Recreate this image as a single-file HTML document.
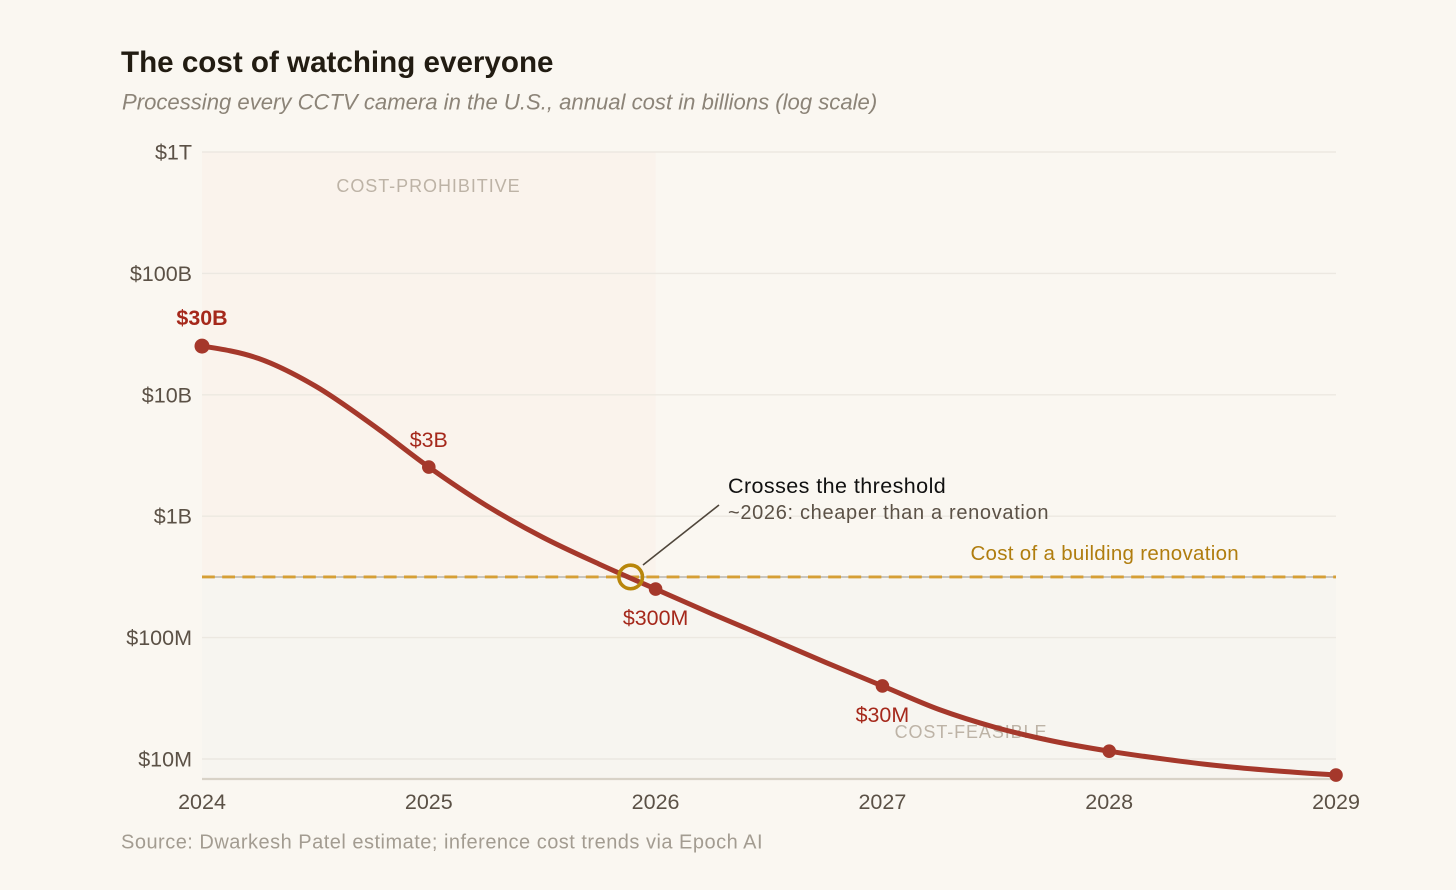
<!DOCTYPE html>
<html lang="en">
<head>
<meta charset="utf-8">
<title>The cost of watching everyone</title>
<style>
html,body{margin:0;padding:0;background:#faf7f1;}
svg{display:block;font-family:"Liberation Sans",Arial,sans-serif;}
</style>
</head>
<body>
<svg id="chart" width="1456" height="890" viewBox="0 0 1456 890" xmlns="http://www.w3.org/2000/svg">
  <rect x="0" y="0" width="1456" height="890" fill="#faf7f1"/>
  <text x="121" y="72" font-size="29.6" font-weight="700" fill="#221c12">The cost of watching everyone</text>
  <text x="122" y="109.5" font-size="22.1" font-style="italic" fill="#8c8478">Processing every CCTV camera in the U.S., annual cost in billions (log scale)</text>
  <rect id="zoneHigh" fill="#faf3ec"/>
  <rect id="zoneLow" fill="#f7f5f0"/>
  <g id="grid"></g>
  <g id="yLabels"></g>
  <line id="baseline" stroke="#d8d2c7" stroke-width="2.2"/>
  <g id="xLabels"></g>
  <text x="428.5" y="192" text-anchor="middle" font-size="18" letter-spacing="0.95" fill="#bdb3a6">COST-PROHIBITIVE</text>
  <text x="971" y="738" text-anchor="middle" font-size="18" letter-spacing="0.9" fill="#bdb3a6">COST-FEASIBLE</text>
  <line id="thresholdBase" stroke="#c9c6c0" stroke-width="2"/>
  <line id="thresholdDash" stroke="#d69f35" stroke-width="2.8" stroke-dasharray="12.8 7.4"/>
  <text x="1239" y="560" text-anchor="end" font-size="20.5" letter-spacing="0.3" fill="#b07d0e">Cost of a building renovation</text>
  <path id="costLine" fill="none" stroke="#a5382b" stroke-width="5" stroke-linejoin="round"/>
  <g id="points"></g>
  <g id="valueLabels"></g>
  <circle id="crossMarker" r="11.8" fill="none" stroke="#b8860b" stroke-width="3.6"/>
  <line x1="643" y1="565" x2="719" y2="505" stroke="#4f463b" stroke-width="1.6"/>
  <text x="728" y="493" font-size="21.5" letter-spacing="0.43" fill="#111111">Crosses the threshold</text>
  <text x="728" y="519" font-size="20" letter-spacing="0.67" fill="#5b5146">~2026: cheaper than a renovation</text>
  <text x="121" y="848.5" font-size="20" letter-spacing="0.49" fill="#a39c91">Source: Dwarkesh Patel estimate; inference cost trends via Epoch AI</text>
</svg>
<script>
// Chart data: annual cost in billions of dollars
var years = [2024, 2024.25, 2024.5, 2024.75, 2025, 2025.25, 2025.5, 2025.75, 2026, 2026.25, 2026.5, 2026.75, 2027, 2027.25, 2027.5, 2027.75, 2028, 2028.25, 2028.5, 2028.75, 2029];
var costs = [25.2, 19.9, 11.8, 5.69, 2.54, 1.237, 0.674, 0.404, 0.251, 0.1565, 0.0992, 0.0624, 0.04, 0.02557, 0.01818, 0.01407, 0.0116, 0.00994, 0.00873, 0.00794, 0.00738];
var xTickYears = [2024, 2025, 2026, 2027, 2028, 2029];
var labelYears = [2024, 2025, 2026, 2027];
var labelText = ["$30B", "$3B", "$300M", "$30M"];
var tickValues = [1000, 100, 10, 1, 0.1, 0.01];
var tickText = ["$1T", "$100B", "$10B", "$1B", "$100M", "$10M"];
var thresholdCost = 0.316;
var crossingYear = 2025.89;

var NS = "http://www.w3.org/2000/svg";
var plotLeft = 202, plotRight = 1336, plotTop = 152, plotBottom = 779, tickBottomY = 759;
function xScale(year) {
  return plotLeft + (year - xTickYears[0]) / (xTickYears[xTickYears.length - 1] - xTickYears[0]) * (plotRight - plotLeft);
}
function yScale(v) {
  var top = Math.log10(tickValues[0]), bot = Math.log10(tickValues[tickValues.length - 1]);
  return plotTop + (top - Math.log10(v)) / (top - bot) * (tickBottomY - plotTop);
}
function make(tag, attrs, parent, text) {
  var el = document.createElementNS(NS, tag);
  for (var k in attrs) el.setAttribute(k, attrs[k]);
  if (text !== undefined) el.textContent = text;
  parent.appendChild(el);
  return el;
}
function byId(id) { return document.getElementById(id); }
function setAttrs(el, attrs) { for (var k in attrs) el.setAttribute(k, attrs[k]); }

var thY = yScale(thresholdCost);
setAttrs(byId("zoneHigh"), {x: plotLeft, y: plotTop, width: xScale(2026) - plotLeft, height: thY - plotTop});
setAttrs(byId("zoneLow"), {x: plotLeft, y: thY, width: plotRight - plotLeft, height: plotBottom - thY});
setAttrs(byId("baseline"), {x1: plotLeft, x2: plotRight, y1: plotBottom, y2: plotBottom});
setAttrs(byId("thresholdBase"), {x1: plotLeft, x2: plotRight, y1: thY, y2: thY});
setAttrs(byId("thresholdDash"), {x1: plotLeft, x2: plotRight, y1: thY, y2: thY});
setAttrs(byId("crossMarker"), {cx: xScale(crossingYear), cy: thY});

tickValues.forEach(function (v, i) {
  var y = yScale(v);
  var line = make("line", {x1: plotLeft, x2: plotRight, y1: y, y2: y, stroke: "#ece8e1", "stroke-width": 1.4}, byId("grid"));
  
  
  var label = make("text", {x: 192, y: y + 7.5, "text-anchor": "end", "font-size": 21.5, fill: "#5b5146"}, byId("yLabels"), tickText[i]);
  
  
});

xTickYears.forEach(function (yr) {
  var label = make("text", {x: xScale(yr), y: 809, "text-anchor": "middle", "font-size": 21.5, fill: "#5b5146"}, byId("xLabels"), String(yr));
  
  
});

// Smooth cubic (central-difference tangents) through the data points, in pixel space
var px = years.map(xScale);
var py = costs.map(yScale);
function smoothPath(xs, ys) {
  var n = xs.length, m = [], i;
  for (i = 1; i < n - 1; i++) {
    m[i] = (ys[i + 1] - ys[i - 1]) / (xs[i + 1] - xs[i - 1]);
  }
  m[0] = (3 * (ys[1] - ys[0]) / (xs[1] - xs[0]) - m[1]) / 2;
  m[n - 1] = (3 * (ys[n - 1] - ys[n - 2]) / (xs[n - 1] - xs[n - 2]) - m[n - 2]) / 2;
  var d = "M" + xs[0] + "," + ys[0];
  for (i = 0; i < n - 1; i++) {
    var dx = (xs[i + 1] - xs[i]) / 3;
    d += "C" + (xs[i] + dx) + "," + (ys[i] + m[i] * dx) + " " + (xs[i + 1] - dx) + "," + (ys[i + 1] - m[i + 1] * dx) + " " + xs[i + 1] + "," + ys[i + 1];
  }
  return d;
}
byId("costLine").setAttribute("d", smoothPath(px, py));

years.forEach(function (yr, i) {
  if (xTickYears.indexOf(yr) < 0) return;
  var dot = make("circle", {cx: px[i], cy: py[i], r: i === 0 ? 7.5 : 6.8, fill: "#a5382b"}, byId("points"));
  
  
  var li = labelYears.indexOf(yr);
  if (li < 0) return;
  var dy = li < 2 ? (li === 0 ? -21 : -20) : 36;
  var lbl = make("text", {x: px[i], y: py[i] + dy, "text-anchor": "middle", "font-size": 21.4, "font-weight": li === 0 ? 700 : 400, fill: "#a5281b"}, byId("valueLabels"), labelText[li]);
  
  
});
</script>
</body>
</html>
